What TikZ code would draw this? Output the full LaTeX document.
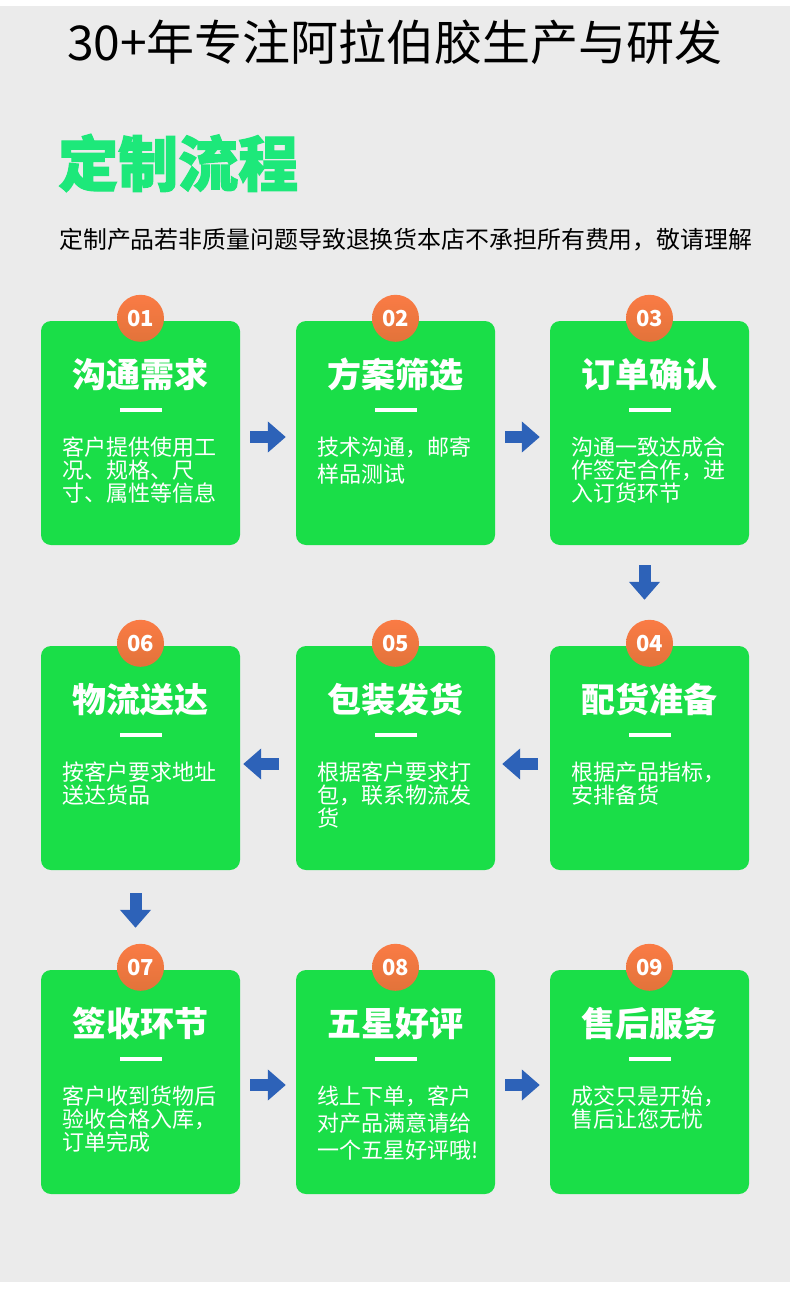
\documentclass[tikz,border=0pt]{standalone}
\usepackage{fontspec}
\setmainfont{Noto Sans CJK SC}
\newfontfamily\cjkheavy{Noto Sans CJK SC}[FakeBold=2]
\usetikzlibrary{arrows.meta}
\definecolor{colFondo}{HTML}{EBEBEB}
\definecolor{colTarjeta}{HTML}{1ADE48}
\definecolor{colCabecera}{HTML}{1DE87A}
\definecolor{colInsigniaArriba}{HTML}{FA7B45}
\definecolor{colInsigniaAbajo}{HTML}{E2733A}
\definecolor{colFlecha}{HTML}{2D62B8}

\begin{document}
\begin{tikzpicture}[x=1pt, y=-1pt,
        card/.style={rounded corners=10pt, fill=colTarjeta, minimum width=199pt, minimum height=224pt, inner sep=0pt},
        badge/.style={circle, top color=colInsigniaArriba, bottom color=colInsigniaAbajo, minimum size=47pt, inner sep=0pt, text=white, font=\fontsize{22}{22}\selectfont\bfseries},
        cardtitle/.style={inner sep=0pt, text=white, font=\fontsize{34}{34}\selectfont\bfseries},
        bar/.style={fill=white, minimum width=42pt, minimum height=3.5pt, inner sep=0pt},
        body/.style={inner sep=0pt, text=white, align=left, anchor=north west},
        arr/.style={-{Triangle[length=18pt, width=30pt]}, line width=12pt, draw=colFlecha}
    ]
    \useasboundingbox (0,0) rectangle (790,1308);
    \fill[colFondo] (0,6) rectangle (790,1282);

    % Encabezado
    \node[inner sep=0pt, font=\fontsize{48}{48}\selectfont] (lema) at (395,42) {30+年专注阿拉伯胶生产与研发};
    \node[anchor=west, inner sep=0pt, text=colCabecera, font=\cjkheavy\bfseries\fontsize{60}{60}\selectfont] (titulo) at (58,163) {定制流程};
    \node[anchor=west, inner sep=0pt, font=\fontsize{23.9}{24}\selectfont] (aviso) at (59,240) {定制产品若非质量问题导致退换货本店不承担所有费用，敬请理解};

    % Tarjetas
    \foreach \n/\x/\y/\num/\tit/\sk/\txt in {
        xuqiu/140.5/433/01/沟通需求/23/{客户提供使用工\\况、规格、尺\\寸、属性等信息},
        fangan/395.5/433/02/方案筛选/27/{技术沟通，邮寄\\样品测试},
        dingdan/649.5/433/03/订单确认/23/{沟通一致达成合\\作签定合作，进\\入订货环节},
        peihuo/649.5/758/04/配货准备/23/{根据产品指标，\\安排备货},
        fahuo/395.5/758/05/包装发货/23/{根据客户要求打\\包，联系物流发\\货},
        wuliu/140.5/758/06/物流送达/23/{按客户要求地址\\送达货品},
        qianshou/140.5/1082/07/签收环节/23/{客户收到货物后\\验收合格入库，\\订单完成},
        haoping/395.5/1082/08/五星好评/27/{线上下单，客户\\对产品满意请给\\一个五星好评哦!},
        shouhou/649.5/1082/09/售后服务/23/{成交只是开始，\\售后让您无忧}} {
        \node[card] (\n) at (\x,\y) {};
        \node[badge] (\n-num) at ([yshift=2.5pt]\n.north) {\num};
        \node[cardtitle] (\n-tit) at ([yshift=-54pt]\n.north) {\tit};
        \node[bar] (\n-bar) at ([yshift=-89pt]\n.north) {};
        \node[body, font=\fontsize{22}{\sk}\selectfont] (\n-txt) at ([xshift=21pt, yshift=-116pt]\n.north west) {\txt};
    }

    % Fila 1
    \draw[arr, shorten <=10pt, shorten >=10pt] ([yshift=-4pt]xuqiu.east) -- ([yshift=-4pt]fangan.west);
    \draw[arr, shorten <=10pt, shorten >=10pt] ([yshift=-4pt]fangan.east) -- ([yshift=-4pt]dingdan.west);
    \draw[arr, shorten <=20pt, shorten >=46pt] ([xshift=-5pt]dingdan.south) -- ([xshift=-5pt]peihuo.north);

    % Fila 2
    \draw[arr, shorten <=12pt, shorten >=7pt] ([yshift=-6pt]peihuo.west) -- ([yshift=-6pt]fahuo.east);
    \draw[arr, shorten <=17pt, shorten >=3pt] ([yshift=-6pt]fahuo.west) -- ([yshift=-6pt]wuliu.east);
    \draw[arr, shorten <=23pt, shorten >=42pt] ([xshift=-5pt]wuliu.south) -- ([xshift=-5pt]qianshou.north);

    % Fila 3
    \draw[arr, shorten <=10pt, shorten >=10pt] ([yshift=-3pt]qianshou.east) -- ([yshift=-3pt]haoping.west);
    \draw[arr, shorten <=10pt, shorten >=10pt] ([yshift=-3pt]haoping.east) -- ([yshift=-3pt]shouhou.west);

\end{tikzpicture}
\end{document}
